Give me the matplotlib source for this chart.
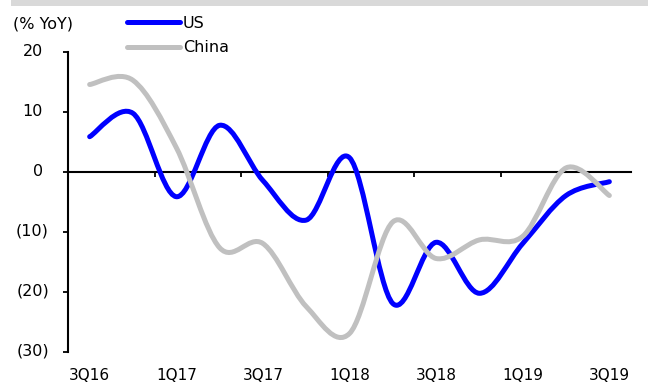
import numpy as np
import matplotlib
matplotlib.use('Agg')
import matplotlib.pyplot as plt
from matplotlib.path import Path
from matplotlib.patches import PathPatch, Rectangle
from matplotlib.lines import Line2D

plt.rcParams['font.family'] = ['DejaVu Sans']

# quarterly growth, % YoY
quarters = ['3Q16', '4Q16', '1Q17', '2Q17', '3Q17', '4Q17', '1Q18',
            '2Q18', '3Q18', '4Q18', '1Q19', '2Q19', '3Q19']
us = [5.8, 9.7, -4.2, 7.7, -1.5, -8.1, 2.3, -22.0, -11.8, -20.3, -12.0, -4.0, -1.7]
china = [14.5, 15.2, 4.0, -12.7, -12.0, -22.5, -27.0, -8.4, -14.5, -11.4, -10.8, 0.6, -4.0]
yticks = [20, 10, 0, -10, -20, -30]
shown = ['3Q16', '1Q17', '3Q17', '1Q18', '3Q18', '1Q19', '3Q19']

W, H = 648, 385


def smooth(xs, ys):
    # bezier segments like excel's smoothed line
    n = len(xs)
    verts = [(xs[0], ys[0])]
    codes = [Path.MOVETO]
    for i in range(n - 1):
        xp, yp = (xs[i - 1], ys[i - 1]) if i > 0 else (xs[i], ys[i])
        xn, yn = (xs[i + 2], ys[i + 2]) if i + 2 < n else (xs[i + 1], ys[i + 1])
        c1 = (xs[i] + (xs[i + 1] - xp) / 6, ys[i] + (ys[i + 1] - yp) / 6)
        c2 = (xs[i + 1] - (xn - xs[i]) / 6, ys[i + 1] - (yn - ys[i]) / 6)
        verts += [c1, c2, (xs[i + 1], ys[i + 1])]
        codes += [Path.CURVE4] * 3
    return Path(verts, codes)


fig = plt.figure(figsize=(W / 100, H / 100), dpi=100)
ax = fig.add_axes([68 / W, 1 - 351.5 / H, 563 / W, 300 / H])

# grey band along the top
fig.patches.append(Rectangle((11 / W, 1 - 6 / H), 1, 6 / H, transform=fig.transFigure,
                             facecolor='#d9d9d9', edgecolor='none'))

x = np.arange(len(quarters))
ax.add_patch(PathPatch(smooth(x, us), facecolor='none', edgecolor='#0000ff', lw=3.6,
                       capstyle='round', joinstyle='round', zorder=3))
ax.add_patch(PathPatch(smooth(x, china), facecolor='none', edgecolor='#c0c0c0', lw=3.6,
                       capstyle='round', joinstyle='round', zorder=4))

ax.set_xlim(-0.5, len(quarters) - 0.5)
ax.set_ylim(-30, 20)
ax.spines['top'].set_visible(False)
ax.spines['right'].set_visible(False)
ax.spines['bottom'].set_position(('data', 0))
ax.spines['bottom'].set_linewidth(1.5)
ax.spines['left'].set_linewidth(1.5)

ax.set_xticks(np.arange(-0.5, len(quarters) - 1, 2))
ax.set_xticklabels([])
ax.set_yticks(yticks)
ax.set_yticklabels([])
ax.tick_params(direction='out', length=3.6, width=1.3, color='black')

# y labels, accounting style with negatives in brackets
for v in yticks:
    txt = f'({abs(v)})' if v < 0 else f'{v}'
    off = -13.7 if v < 0 else -18.0
    ax.annotate(txt, xy=(0, v), xycoords=('axes fraction', 'data'), xytext=(off, 0),
                textcoords='offset points', ha='right', va='center', fontsize=11.5)

# category labels along the bottom
for q in shown:
    ax.annotate(q, xy=(quarters.index(q), 0), xycoords=('data', 'axes fraction'),
                xytext=(0, -17), textcoords='offset points', ha='center', va='center',
                fontsize=11)

fig.text(13 / W, 1 - 24 / H, '(% YoY)', ha='left', va='center', fontsize=11.5)

handles = [Line2D([], [], color='#0000ff', lw=3.6, solid_capstyle='round'),
           Line2D([], [], color='#c0c0c0', lw=3.6, solid_capstyle='round')]
ax.legend(handles, ['US', 'China'], loc='upper left', bbox_to_anchor=(127 / W, 1 - 15.5 / H),
          bbox_transform=fig.transFigure, frameon=False, fontsize=11.5, handlelength=3.3,
          handletextpad=0.2, labelspacing=0.62, borderpad=0, borderaxespad=0)

fig.savefig('out.png', dpi=100)
